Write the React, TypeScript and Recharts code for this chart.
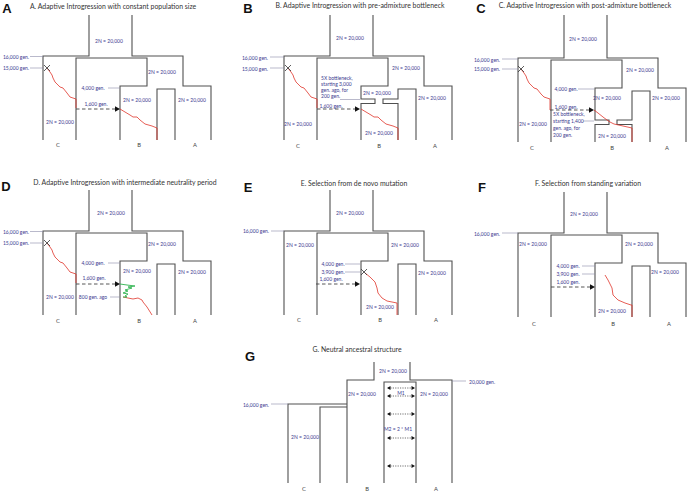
import React from 'react';
import { ScatterChart, Scatter, XAxis, YAxis } from 'recharts';

type Pt = { x: number; y: number };

// ---------- panel frames (local coords of panel A, shifted per panel) ----------
const PANELS = [
  { id: 'A', dx: 0, dy: 0, rootTop: 15, notch: null as number | null },
  { id: 'B', dx: 241, dy: 0, rootTop: 15, notch: 99 },
  { id: 'C', dx: 475, dy: 2, rootTop: 13, notch: 118 },
  { id: 'D', dx: 0, dy: 175, rootTop: 15, notch: null },
  { id: 'E', dx: 241, dy: 175, rootTop: 15, notch: null },
  { id: 'F', dx: 475, dy: 177, rootTop: 15, notch: null },
];

// panel G frame
const G_FRAME: number[][][] = [
  [[374, 362], [374, 380], [347, 380], [347, 483]],
  [[288, 483], [288, 404], [347, 404]],
  [[320, 483], [320, 407], [347, 407]],
  [[410, 362], [410, 380], [452, 380], [452, 483]],
  [[384, 483], [384, 382], [416, 382], [416, 483]],
];

// leader lines (from label to branch)
const LEADERS: number[][][] = [
  [[30, 56.5], [43, 56.5]], [[30, 68], [43, 68]], [[108, 88], [120, 88]],
  [[270, 57], [284, 57]], [[270, 68], [284, 68]], [[340, 99.5], [360, 99.5]],
  [[502, 59], [518, 59]], [[502, 69], [518, 69]], [[578, 89], [594, 89]], [[583, 121], [594, 121]],
  [[30, 231.5], [43, 231.5]], [[30, 243], [43, 243]], [[108, 263], [120, 263]], [[110, 297], [120, 297]],
  [[271, 231], [284, 231]], [[345, 264], [360, 264]], [[345, 272], [360, 272]],
  [[502, 233], [518, 233]], [[582, 266], [595, 266]], [[582, 274], [595, 274]],
  [[271, 404], [288, 404]], [[452, 381], [466, 381]],
];

// admixture pulses (dashed arrows)
const PULSES: number[][][] = [
  [[76, 109], [116, 109]], [[317, 109], [356, 109]], [[550, 110], [590, 110]],
  [[76, 284], [116, 284]], [[316, 284], [356, 284]], [[551, 287], [591, 287]],
];
const PULSE_TIPS: Pt[] = [
  { x: 120, y: 109 }, { x: 360, y: 109 }, { x: 594, y: 110 },
  { x: 120, y: 284 }, { x: 360, y: 284 }, { x: 595, y: 287 },
];

// allele trajectories
const RED_PATHS: number[][][] = [
  [[47, 68], [50, 72], [52, 75], [53, 78], [55, 82], [58, 85], [60, 87], [63, 88], [67, 93], [70, 97], [73, 98], [76, 99], [76, 108]],
  [[120, 109], [125, 112], [130, 115], [133, 117], [137, 117], [140, 120], [145, 124], [152, 126], [157, 128], [157, 140]],
  [[288, 68], [291, 72], [293, 75], [294, 78], [296, 82], [299, 85], [301, 87], [304, 88], [308, 93], [311, 97], [314, 98], [317, 99], [317, 108]],
  [[361, 109], [366, 112], [371, 115], [374, 117], [378, 117], [381, 120], [386, 124], [393, 126], [398, 128], [398, 140]],
  [[521, 69], [524, 73], [526, 76], [527, 79], [529, 83], [532, 86], [534, 88], [537, 89], [541, 94], [544, 97], [547, 98], [550, 99], [550, 110]],
  [[594, 110], [598, 113], [603, 117], [607, 120], [610, 122], [614, 124], [623, 126], [632, 128], [632, 142]],
  [[47, 243], [50, 247], [52, 250], [53, 253], [55, 257], [58, 260], [60, 262], [63, 263], [67, 268], [70, 272], [73, 273], [76, 274], [76, 283]],
  [[123, 297], [128, 298], [133, 299], [138, 298], [142, 300], [143, 302], [147, 307], [152, 315]],
  [[365, 273], [370, 277], [375, 282], [377, 288], [378, 293], [382, 298], [387, 301], [397, 303], [397, 315]],
  [[605, 275], [608, 280], [612, 288], [613, 295], [618, 300], [625, 303], [631, 305], [632, 305], [632, 317]],
];
const GREEN_PATH: number[][] = [
  [120, 284], [127, 285], [135, 286], [128, 287], [132, 288], [125, 290], [128, 291], [123, 293], [128, 294], [125, 296], [127, 297], [123, 297],
];
const MUTATIONS: Pt[] = [
  { x: 47, y: 68 }, { x: 288, y: 68 }, { x: 521, y: 69 }, { x: 47, y: 243 }, { x: 364, y: 272 },
];

// migration arrows in G
const MIG_Y = [388, 396, 414, 438, 466];
const MIG_X = [388, 414];

// ---------- texts ----------
type Txt = { x: number; y: number; t: string; k: string; a?: string };
const N = '2N = 20,000';
const LETTERS: Txt[] = [
  { x: 7, y: 8, t: 'A', k: 'L' }, { x: 248, y: 8, t: 'B', k: 'L' }, { x: 481, y: 8, t: 'C', k: 'L' },
  { x: 6, y: 186, t: 'D', k: 'L' }, { x: 248, y: 187, t: 'E', k: 'L' }, { x: 482, y: 187, t: 'F', k: 'L' },
  { x: 250, y: 356, t: 'G', k: 'L' },
];
const TITLES: Txt[] = [
  { x: 113, y: 6, t: 'A. Adaptive Introgression with constant population size', k: 'T' },
  { x: 360, y: 5, t: 'B. Adaptive Introgression with pre-admixture bottleneck', k: 'T' },
  { x: 585, y: 5, t: 'C. Adaptive Introgression with post-admixture bottleneck', k: 'T' },
  { x: 125, y: 182, t: 'D. Adaptive Introgression with intermediate neutrality period', k: 'T' },
  { x: 354, y: 183, t: 'E. Selection from de novo mutation', k: 'T' },
  { x: 588, y: 183, t: 'F. Selection from standing variation', k: 'T' },
  { x: 357, y: 349, t: 'G. Neutral ancestral structure', k: 'T' },
];
const POP_SIZES: Txt[] = [
  { x: 109, y: 41, t: N, k: 'N' }, { x: 162, y: 72, t: N, k: 'N' }, { x: 137, y: 100, t: N, k: 'N' }, { x: 192, y: 100, t: N, k: 'N' }, { x: 60, y: 122, t: N, k: 'N' },
  { x: 350, y: 38, t: N, k: 'N' }, { x: 406, y: 68, t: N, k: 'N' }, { x: 377, y: 93, t: N, k: 'N' }, { x: 432, y: 98, t: N, k: 'N' }, { x: 298, y: 124, t: N, k: 'N' }, { x: 379, y: 133, t: N, k: 'N' },
  { x: 583, y: 39, t: N, k: 'N' }, { x: 640, y: 70, t: N, k: 'N' }, { x: 607, y: 98, t: N, k: 'N' }, { x: 666, y: 98, t: N, k: 'N' }, { x: 533, y: 124, t: N, k: 'N' }, { x: 612, y: 136, t: N, k: 'N' },
  { x: 111, y: 213, t: N, k: 'N' }, { x: 162, y: 244, t: N, k: 'N' }, { x: 137, y: 271, t: N, k: 'N' }, { x: 192, y: 272, t: N, k: 'N' }, { x: 60, y: 297, t: N, k: 'N' },
  { x: 350, y: 213, t: N, k: 'N' }, { x: 300, y: 245, t: N, k: 'N' }, { x: 405, y: 245, t: N, k: 'N' }, { x: 432, y: 273, t: N, k: 'N' }, { x: 380, y: 307, t: N, k: 'N' },
  { x: 584, y: 214, t: N, k: 'N' }, { x: 533, y: 244, t: N, k: 'N' }, { x: 639, y: 244, t: N, k: 'N' }, { x: 665, y: 272, t: N, k: 'N' }, { x: 612, y: 311, t: N, k: 'N' },
  { x: 393, y: 371, t: N, k: 'N' }, { x: 362, y: 394, t: N, k: 'N' }, { x: 434, y: 394, t: N, k: 'N' }, { x: 305, y: 437, t: N, k: 'N' },
  { x: 401, y: 393, t: 'M1', k: 'N' }, { x: 398, y: 429, t: 'M2 = 2 * M1', k: 'N' },
];
const TIMES: Txt[] = [
  { x: 29, y: 57, t: '16,000 gen.', k: 'G', a: 'end' }, { x: 29, y: 68, t: '15,000 gen.', k: 'G', a: 'end' },
  { x: 93, y: 88, t: '4,000 gen.', k: 'G' }, { x: 96, y: 104, t: '1,600 gen.', k: 'G' },
  { x: 268, y: 58, t: '16,000 gen.', k: 'G', a: 'end' }, { x: 268, y: 69, t: '15,000 gen.', k: 'G', a: 'end' },
  { x: 321, y: 78, t: '5X bottleneck,', k: 'G', a: 'start' }, { x: 321, y: 84, t: 'starting 3,000', k: 'G', a: 'start' },
  { x: 321, y: 90, t: 'gen. ago, for', k: 'G', a: 'start' }, { x: 321, y: 96, t: '200 gen.', k: 'G', a: 'start' },
  { x: 331, y: 106, t: '1,600 gen.', k: 'G' },
  { x: 500, y: 60, t: '16,000 gen.', k: 'G', a: 'end' }, { x: 500, y: 69, t: '15,000 gen.', k: 'G', a: 'end' },
  { x: 566, y: 89, t: '4,000 gen.', k: 'G' }, { x: 566, y: 107, t: '1,600 gen.', k: 'G' },
  { x: 553, y: 114, t: '5X bottleneck,', k: 'G', a: 'start' }, { x: 553, y: 121, t: 'starting 1,400', k: 'G', a: 'start' },
  { x: 553, y: 128, t: 'gen. ago, for', k: 'G', a: 'start' }, { x: 553, y: 135, t: '200 gen.', k: 'G', a: 'start' },
  { x: 29, y: 232, t: '16,000 gen.', k: 'G', a: 'end' }, { x: 29, y: 243, t: '15,000 gen.', k: 'G', a: 'end' },
  { x: 93, y: 263, t: '4,000 gen.', k: 'G' }, { x: 94, y: 278, t: '1,600 gen.', k: 'G' }, { x: 93, y: 297, t: '800 gen. ago', k: 'G' },
  { x: 269, y: 231, t: '16,000 gen.', k: 'G', a: 'end' },
  { x: 333, y: 264, t: '4,000 gen.', k: 'G' }, { x: 333, y: 272, t: '3,900 gen.', k: 'G' }, { x: 331, y: 279, t: '1,600 gen.', k: 'G' },
  { x: 500, y: 234, t: '16,000 gen.', k: 'G', a: 'end' },
  { x: 568, y: 266, t: '4,000 gen.', k: 'G' }, { x: 568, y: 274, t: '3,900 gen.', k: 'G' }, { x: 568, y: 282, t: '1,600 gen.', k: 'G' },
  { x: 269, y: 405, t: '16,000 gen.', k: 'G', a: 'end' }, { x: 469, y: 382, t: '20,000 gen.', k: 'G', a: 'start' },
];
const POP_NAMES = ['C', 'B', 'A'];
const POP_NAME_POS: number[][][] = [
  [[58, 144], [139, 144], [195, 144]],
  [[298, 145], [379, 145], [435, 145]],
  [[532, 147], [612, 147], [667, 147]],
  [[58, 320], [139, 320], [195, 320]],
  [[299, 319], [380, 319], [436, 319]],
  [[534, 323], [613, 323], [669, 323]],
  [[304, 488], [367, 488], [436, 488]],
];

// ---------- styles ----------
const FRAME_COLOR = '#505050';
const LEADER_COLOR = '#8a8aa8';
const RED = '#e0352b';
const GREEN = '#2fb34f';
const BLUE_TEXT = '#3b3b8f';
const FONT = 'Lato, "Open Sans", sans-serif';
const TEXT_STYLE: Record<string, any> = {
  L: { size: 13, color: '#111', weight: 700, family: '"Liberation Sans", Arial, sans-serif' },
  T: { size: 6.9, color: '#333', weight: 400, family: FONT },
  N: { size: 5, color: BLUE_TEXT, weight: 400, family: FONT },
  G: { size: 5, color: BLUE_TEXT, weight: 400, family: FONT },
  P: { size: 5.8, color: '#444', weight: 400, family: FONT },
};

// ---------- build series ----------
function buildFrame(p: typeof PANELS[number]): number[][][] {
  const T = p.rootTop;
  const polys: number[][][] = [
    [[89, T], [89, 56], [43, 56], [43, 140]],
    [[132, T], [132, 56], [183, 56], [183, 86], [211, 86], [211, 140]],
  ];
  if (p.notch == null) {
    polys.push([[76, 140], [76, 58], [147, 58], [147, 86], [120, 86], [120, 140]]);
    polys.push([[157, 140], [157, 89], [175, 89], [175, 140]]);
  } else {
    const n = p.notch;
    const m = p.notch + 4.5;
    polys.push([[76, 140], [76, 58], [147, 58], [147, 86], [120, 86], [120, n], [134, n], [134, m], [120, m], [120, 140]]);
    polys.push([[157, 140], [157, m], [142, m], [142, n], [157, n], [157, 89], [175, 89], [175, 140]]);
  }
  return polys.map((pl) => pl.map(([x, y]) => [x + p.dx, y + p.dy]));
}

const toPts = (pl: number[][]): Pt[] => pl.map(([x, y]) => ({ x, y }));

type Poly = { pts: Pt[]; stroke: string; w: number; dash?: string };
const POLYS: Poly[] = [
  ...PANELS.flatMap((p) => buildFrame(p)).map((pl) => ({ pts: toPts(pl), stroke: FRAME_COLOR, w: 1.1 })),
  ...G_FRAME.map((pl) => ({ pts: toPts(pl), stroke: FRAME_COLOR, w: 1.1 })),
  ...LEADERS.map((pl) => ({ pts: toPts(pl), stroke: LEADER_COLOR, w: 0.6 })),
  ...PULSES.map((pl) => ({ pts: toPts(pl), stroke: '#444', w: 0.9, dash: '3.5 2.5' })),
  ...RED_PATHS.map((pl) => ({ pts: toPts(pl), stroke: RED, w: 0.8 })),
  { pts: toPts(GREEN_PATH), stroke: GREEN, w: 0.9 },
  ...MIG_Y.map((y) => ({ pts: MIG_X.map((x) => ({ x, y })), stroke: '#333', w: 0.7, dash: '1.2 1.2' })),
];

const TEXTS: Txt[] = [
  ...LETTERS, ...TITLES, ...POP_SIZES, ...TIMES,
  ...POP_NAME_POS.flatMap((row) => row.map(([x, y], i) => ({ x, y, t: POP_NAMES[i], k: 'P' }))),
];

const MIG_TIPS = MIG_Y.flatMap((y) => [{ x: MIG_X[0] - 1, y, d: -1 }, { x: MIG_X[1] + 1, y, d: 1 }]);

// ---------- shapes ----------
const Empty = () => <g />;
const TextShape = (props: any) => {
  const { cx, cy, payload } = props;
  const s = TEXT_STYLE[payload.k];
  return (
    <text
      x={cx}
      y={cy}
      fontSize={s.size}
      fill={s.color}
      fontWeight={s.weight}
      fontFamily={s.family}
      textAnchor={payload.a || 'middle'}
      dominantBaseline="central"
    >
      {payload.t}
    </text>
  );
};
const TipShape = (props: any) => {
  const { cx, cy, payload } = props;
  const d = payload.d ?? 1;
  return <polygon points={`${cx},${cy} ${cx - d * 5},${cy - 2.8} ${cx - d * 5},${cy + 2.8}`} fill="#111" />;
};
const SmallTipShape = (props: any) => {
  const { cx, cy, payload } = props;
  const d = payload.d;
  return <polygon points={`${cx},${cy} ${cx - d * 3.5},${cy - 2} ${cx - d * 3.5},${cy + 2}`} fill="#111" />;
};
const CrossShape = (props: any) => {
  const { cx, cy } = props;
  return (
    <g stroke="#333" strokeWidth={0.8}>
      <line x1={cx - 3} y1={cy - 3} x2={cx + 3} y2={cy + 3} />
      <line x1={cx - 3} y1={cy + 3} x2={cx + 3} y2={cy - 3} />
    </g>
  );
};

export default function App() {
  return (
    <div style={{ position: 'absolute', left: 0, top: 0, width: 688, height: 493, background: '#fff' }}>
      <ScatterChart width={688} height={493} margin={{ top: 0, right: 0, bottom: 0, left: 0 }}>
        <XAxis type="number" dataKey="x" domain={[0, 688]} hide allowDataOverflow />
        <YAxis type="number" dataKey="y" domain={[0, 493]} reversed hide allowDataOverflow />
        {POLYS.map((p, i) => (
          <Scatter
            key={'p' + i}
            data={p.pts}
            line={{ stroke: p.stroke, strokeWidth: p.w, strokeDasharray: p.dash, fill: 'none' }}
            lineType="joint"
            shape={Empty}
            isAnimationActive={false}
          />
        ))}
        <Scatter data={PULSE_TIPS} shape={TipShape} isAnimationActive={false} />
        <Scatter data={MIG_TIPS} shape={SmallTipShape} isAnimationActive={false} />
        <Scatter data={MUTATIONS} shape={CrossShape} isAnimationActive={false} />
        <Scatter data={TEXTS} shape={TextShape} isAnimationActive={false} />
      </ScatterChart>
    </div>
  );
}
